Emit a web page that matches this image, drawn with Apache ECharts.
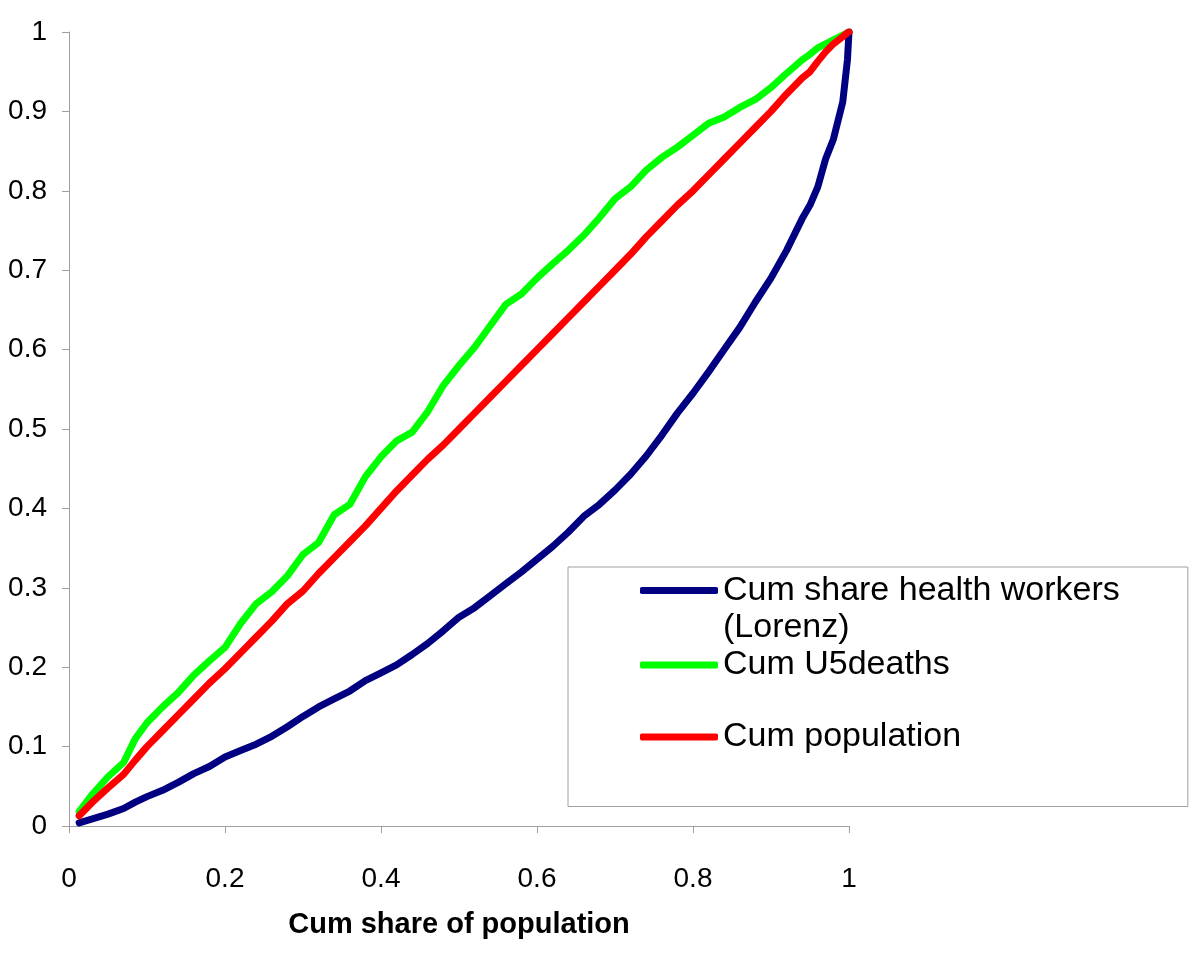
<!DOCTYPE html>
<html>
<head>
<meta charset="utf-8">
<script src="https://cdn.jsdelivr.net/npm/echarts@6/dist/echarts.min.js"></script>
<style>html,body{margin:0;padding:0;background:#fff;}#chart{width:1200px;height:962px;}</style>
</head>
<body>
<div id="chart"></div>
<script>
var popShare = [0.013, 0.03, 0.05, 0.07, 0.085, 0.1, 0.12, 0.14, 0.16, 0.18, 0.2, 0.22, 0.24, 0.26, 0.28, 0.3, 0.32, 0.34, 0.36, 0.38, 0.4, 0.42, 0.44, 0.46, 0.48, 0.5, 0.52, 0.54, 0.56, 0.58, 0.6, 0.62, 0.64, 0.66, 0.68, 0.7, 0.72, 0.74, 0.76, 0.78, 0.8, 0.82, 0.84, 0.86, 0.88, 0.9, 0.92, 0.94, 0.95, 0.96, 0.97, 0.98, 0.992, 0.998, 1.0];
var healthWorkers = [0.004, 0.009, 0.015, 0.022, 0.03, 0.037, 0.045, 0.055, 0.066, 0.075, 0.087, 0.095, 0.103, 0.113, 0.125, 0.138, 0.15, 0.16, 0.17, 0.183, 0.193, 0.203, 0.216, 0.23, 0.246, 0.263, 0.275, 0.29, 0.305, 0.32, 0.336, 0.352, 0.37, 0.39, 0.405, 0.423, 0.443, 0.466, 0.492, 0.52, 0.545, 0.572, 0.6, 0.628, 0.66, 0.69, 0.725, 0.765, 0.782, 0.805, 0.84, 0.865, 0.912, 0.965, 1.0];
var u5Deaths = [0.018, 0.04, 0.062, 0.08, 0.11, 0.13, 0.15, 0.168, 0.19, 0.208, 0.225, 0.255, 0.28, 0.295, 0.315, 0.342, 0.357, 0.392, 0.405, 0.44, 0.465, 0.485, 0.496, 0.522, 0.555, 0.58, 0.603, 0.63, 0.657, 0.67, 0.69, 0.708, 0.725, 0.744, 0.766, 0.79, 0.805, 0.826, 0.842, 0.855, 0.87, 0.885, 0.893, 0.905, 0.915, 0.93, 0.948, 0.965, 0.972, 0.98, 0.985, 0.99, 0.996, 0.999, 1.0];
var population = [0.013, 0.03, 0.048, 0.065, 0.083, 0.1, 0.12, 0.14, 0.16, 0.18, 0.198, 0.218, 0.238, 0.258, 0.28, 0.296, 0.318, 0.338, 0.358, 0.378, 0.4, 0.422, 0.442, 0.462, 0.48, 0.5, 0.52, 0.54, 0.56, 0.58, 0.6, 0.62, 0.64, 0.66, 0.68, 0.7, 0.72, 0.742, 0.762, 0.782, 0.8, 0.82, 0.84, 0.86, 0.88, 0.9, 0.922, 0.942, 0.95, 0.963, 0.975, 0.985, 0.994, 0.999, 1.0];
var seriesNames = ['Cum share health workers (Lorenz)', 'Cum U5deaths', 'Cum population'];
var legendLines = [['Cum share health workers', '(Lorenz)'], ['Cum U5deaths'], ['Cum population']];
var xAxisTitle = 'Cum share of population';

function pairs(ys) { return popShare.map(function (x, i) { return [x, ys[i]]; }); }

var chart = echarts.init(document.getElementById('chart'), null, { renderer: 'canvas' });
var FONT = '"Liberation Sans", Arial, sans-serif';
var axisGray = '#a0a0a0';
var lineStyleBase = { width: 7, cap: 'round', join: 'round' };

chart.setOption({
  animation: false,
  backgroundColor: '#ffffff',
  textStyle: { fontFamily: FONT },
  grid: { left: 69, right: 351, top: 32, bottom: 136, containLabel: false },
  xAxis: {
    type: 'value', min: 0, max: 1, interval: 0.2,
    name: xAxisTitle, nameLocation: 'middle', nameGap: 84,
    nameTextStyle: { fontFamily: FONT, fontSize: 29, fontWeight: 'bold', color: '#000' },
    axisLine: { show: true, lineStyle: { color: axisGray, width: 1 } },
    axisTick: { show: true, length: 7, lineStyle: { color: axisGray } },
    axisLabel: { fontFamily: FONT, fontSize: 28, color: '#000', margin: 39 },
    splitLine: { show: false }
  },
  yAxis: {
    type: 'value', min: 0, max: 1, interval: 0.1,
    axisLine: { show: true, lineStyle: { color: axisGray, width: 1 } },
    axisTick: { show: true, length: 7, lineStyle: { color: axisGray } },
    axisLabel: { fontFamily: FONT, fontSize: 28, color: '#000', margin: 22 },
    splitLine: { show: false }
  },
  legend: {
    orient: 'vertical', left: 568, top: 567,
    padding: [5, 68, 18, 72],
    backgroundColor: '#fff', borderColor: '#a0a0a0', borderWidth: 1, borderRadius: 0,
    itemWidth: 78, itemHeight: 7, itemGap: 2, icon: 'roundRect',
    textStyle: {
      fontFamily: FONT, fontSize: 34, color: '#000', lineHeight: 37,
      rich: { a: { fontFamily: FONT, fontSize: 34, color: '#000', lineHeight: 37 } }
    },
    formatter: function (name) {
      var idx = seriesNames.indexOf(name);
      return legendLines[idx].map(function (s) { return '{a|' + s + '}'; }).join('\n');
    },
    data: [
      { name: seriesNames[0], textStyle: { padding: [0, 0, -37, 0] } },
      { name: seriesNames[1] },
      { name: seriesNames[2], textStyle: { backgroundColor: 'rgba(255,255,255,0)', padding: [33, 0, 33, 0] } }
    ]
  },
  series: [
    { name: seriesNames[0], type: 'line', data: pairs(healthWorkers), showSymbol: false, symbol: 'none',
      color: '#000080', lineStyle: Object.assign({ color: '#000080' }, lineStyleBase), z: 3 },
    { name: seriesNames[1], type: 'line', data: pairs(u5Deaths), showSymbol: false, symbol: 'none',
      color: '#00ff00', lineStyle: Object.assign({ color: '#00ff00' }, lineStyleBase), z: 2 },
    { name: seriesNames[2], type: 'line', data: pairs(population), showSymbol: false, symbol: 'none',
      color: '#ff0000', lineStyle: Object.assign({ color: '#ff0000' }, lineStyleBase), z: 4 }
  ]
});
</script>
</body>
</html>
